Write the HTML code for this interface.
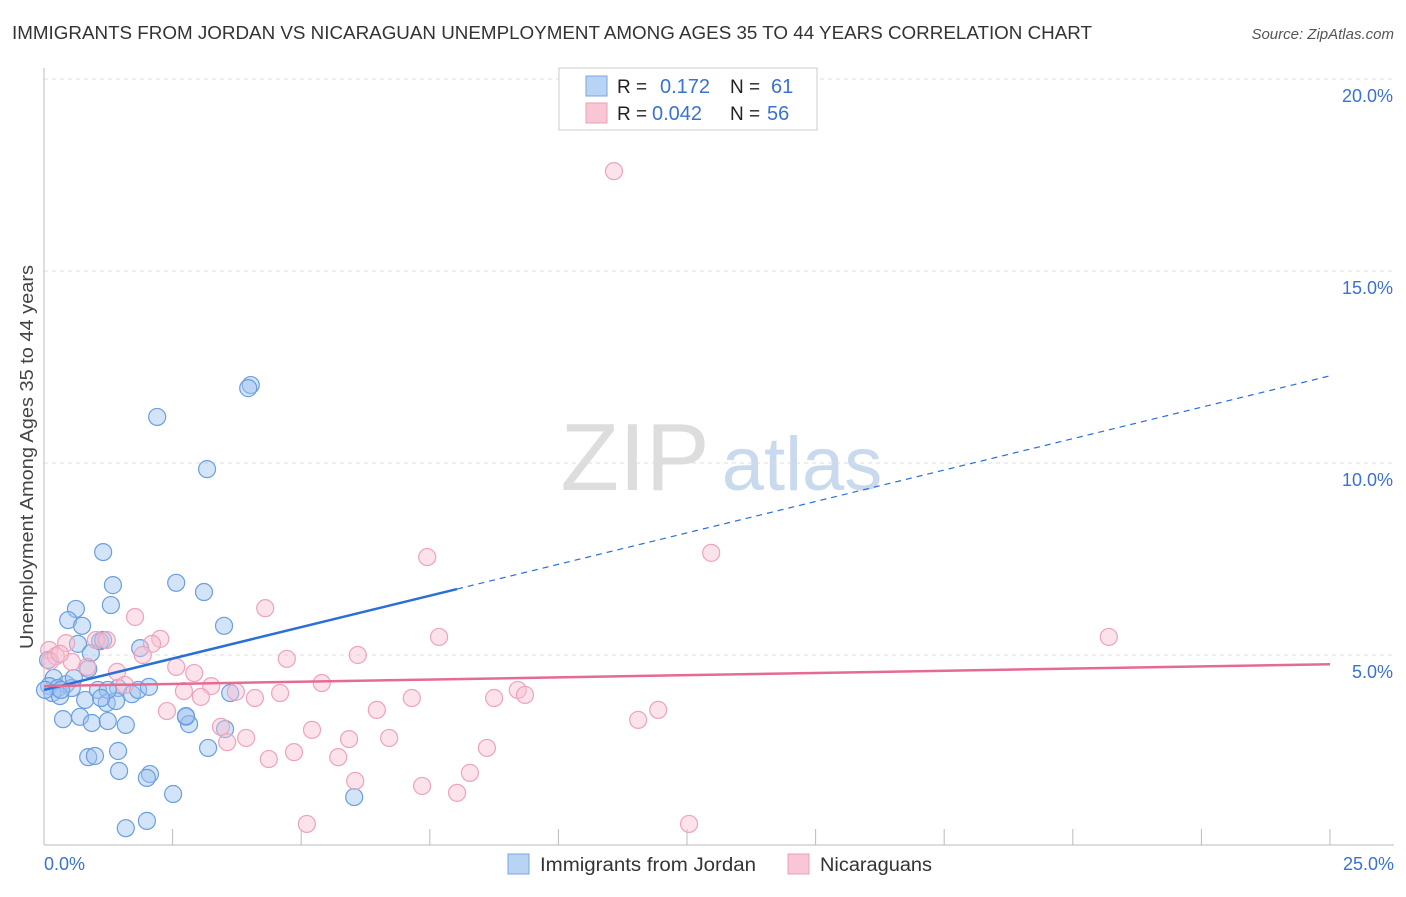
<!DOCTYPE html>
<html><head><meta charset="utf-8">
<style>
body{margin:0;background:#fff;font-family:"Liberation Sans",sans-serif;}
svg text{font-family:"Liberation Sans",sans-serif;}
</style></head>
<body>
<svg id="chart" width="1406" height="892" xmlns="http://www.w3.org/2000/svg">
<text x="12" y="39" font-size="18" fill="#333" textLength="1080" lengthAdjust="spacingAndGlyphs">IMMIGRANTS FROM JORDAN VS NICARAGUAN UNEMPLOYMENT AMONG AGES 35 TO 44 YEARS CORRELATION CHART</text>
<text x="1394" y="39" font-size="15" fill="#555" font-style="italic" text-anchor="end">Source: ZipAtlas.com</text>
<text transform="translate(33,457) rotate(-90)" font-size="18" fill="#444" text-anchor="middle" textLength="384" lengthAdjust="spacingAndGlyphs">Unemployment Among Ages 35 to 44 years</text>
<g>
<text x="635" y="490" font-size="96" fill="#ddd" font-family="Liberation Serif" text-anchor="middle">ZIP</text>
<text x="802" y="490" font-size="76" fill="#c9d9ee" text-anchor="middle">atlas</text>
</g>
<g id="grid"></g>
<g id="axes"></g>
<g id="pts"></g>
<g id="lines"></g>
<g>
<rect x="559" y="68" width="258" height="62" fill="#fff" stroke="#ccc"/>
<rect x="586" y="76" width="21" height="20" fill="#b8d3f4" stroke="#7aa6e0"/>
<rect x="586" y="103" width="21" height="20" fill="#f9c6d5" stroke="#ef9fb8"/>
<text x="617" y="93" font-size="19" fill="#222">R = </text><text x="660" y="93" font-size="20" fill="#3a72d0">0.172</text>
<text x="730" y="93" font-size="19" fill="#222">N = </text><text x="771" y="93" font-size="20" fill="#3a72d0">61</text>
<text x="617" y="120" font-size="19" fill="#222">R = </text><text x="652" y="120" font-size="20" fill="#3a72d0">0.042</text>
<text x="730" y="120" font-size="19" fill="#222">N = </text><text x="767" y="120" font-size="20" fill="#3a72d0">56</text>
</g>
<g>
<rect x="508" y="854" width="21" height="20" fill="#b8d3f4" stroke="#7aa6e0"/>
<text x="540" y="871" font-size="19" fill="#333" textLength="216" lengthAdjust="spacingAndGlyphs">Immigrants from Jordan</text>
<rect x="788" y="854" width="21" height="20" fill="#f9c6d5" stroke="#ef9fb8"/>
<text x="820" y="871" font-size="19" fill="#333" textLength="112" lengthAdjust="spacingAndGlyphs">Nicaraguans</text>
</g>
</svg>
<script>
const blueX=[1.15,1.34,1.30,0.62,0.47,0.74,0.66,0.91,1.09,0.08,0.19,0.43,0.86,0.10,0.27,0.54,0.16,0.31,0.80,1.05,1.22,1.44,1.40,1.71,1.83,2.04,0.37,0.70,0.93,1.24,1.59,2.57,3.11,3.50,1.87,3.62,2.76,2.82,3.52,3.19,0.86,0.99,1.44,1.46,2.06,2.00,2.51,6.03,1.59,2.00,2.20,3.17,4.02,3.97,1.24,1.11,0.02,1.15,0.58,2.76,0.33];
const blueY=[7.68,6.82,6.30,6.20,5.91,5.76,5.29,5.05,5.36,4.87,4.40,4.24,4.64,4.19,4.14,4.14,4.01,3.93,3.83,4.09,3.75,4.14,3.80,3.98,4.09,4.17,3.33,3.39,3.23,3.28,3.18,6.88,6.64,5.76,5.18,4.01,3.39,3.20,3.07,2.58,2.34,2.37,2.50,1.98,1.90,1.80,1.38,1.30,0.49,0.68,11.20,9.84,12.03,11.95,4.09,3.88,4.09,5.39,4.40,3.41,4.09];
const pinkX=[11.08,7.45,12.97,20.70,7.68,4.30,1.77,1.01,1.22,0.43,0.10,0.23,0.54,0.84,1.42,2.26,2.10,1.92,2.57,2.92,4.72,6.10,5.40,3.73,2.72,3.25,3.05,4.10,4.59,6.47,7.15,8.75,9.21,9.35,11.94,11.55,2.39,3.44,3.56,3.93,5.21,5.93,6.71,4.86,5.72,4.37,8.61,8.28,6.05,7.35,8.03,5.11,12.54,0.12,0.31,1.57];
const pinkY=[17.60,7.55,7.66,5.47,5.47,6.22,5.99,5.39,5.39,5.31,5.13,4.97,4.82,4.69,4.56,5.42,5.29,5.00,4.69,4.53,4.90,5.00,4.27,4.04,4.06,4.19,3.91,3.88,4.01,3.57,3.88,3.88,4.09,3.96,3.57,3.31,3.54,3.13,2.73,2.84,3.05,2.81,2.84,2.47,2.34,2.29,2.58,1.93,1.72,1.59,1.41,0.60,0.60,4.84,5.03,4.22];
const xTicks=[0,2.5,5,7.5,10,12.5,15,17.5,20,22.5,25];
const yTicks=[5,10,15,20];
const yTickLabels=["5.0%","10.0%","15.0%","20.0%"];
const blueTrend=[4.09,12.27]; const blueSolidEnd=8.03;
const pinkTrend=[4.19,4.76];
const NS="http://www.w3.org/2000/svg";
const sx=v=>44+v*51.44, sy=v=>847-v*38.4;
function mk(tag,attrs,parent){const e=document.createElementNS(NS,tag);for(const k in attrs)e.setAttribute(k,attrs[k]);parent.appendChild(e);return e;}
const grid=document.getElementById('grid'),axes=document.getElementById('axes'),pts=document.getElementById('pts'),lines=document.getElementById('lines');
yTicks.forEach((t,i)=>{
 const l=mk('line',{x1:44,x2:1394,y1:sy(t),y2:sy(t),stroke:'#ddd','stroke-dasharray':'4,4'},grid);
 
 
 const tx=mk('text',{x:1393,y:sy(t)+23,'font-size':18,fill:'#3a72d0','text-anchor':'end'},axes);tx.textContent=yTickLabels[i];
 
 
});
const ax=mk('line',{x1:44,x2:44,y1:68,y2:845,stroke:'#bbb'},axes);


const bx=mk('line',{x1:44,x2:1394,y1:845,y2:845,stroke:'#bbb'},axes);


xTicks.forEach(t=>{const l=mk('line',{x1:sx(t),x2:sx(t),y1:829,y2:845,stroke:'#bbb'},axes);
 
 });
let t0=mk('text',{x:44,y:870,'font-size':18,fill:'#3a72d0'},axes);t0.textContent="0.0%";


let t1=mk('text',{x:1394,y:870,'font-size':18,fill:'#3a72d0','text-anchor':'end'},axes);t1.textContent="25.0%";


blueX.forEach((x,i)=>{const c=mk('circle',{cx:sx(x),cy:sy(blueY[i]),r:8.5,fill:'rgba(160,196,240,0.45)',stroke:'#6a9ede','stroke-width':1.2},pts);
 
 });
pinkX.forEach((x,i)=>{const c=mk('circle',{cx:sx(x),cy:sy(pinkY[i]),r:8.5,fill:'rgba(248,190,208,0.45)',stroke:'#eda3bb','stroke-width':1.2},pts);
 
 });
const by=x=>blueTrend[0]+(blueTrend[1]-blueTrend[0])*x/25;
let l1=mk('line',{x1:sx(0),y1:sy(by(0)),x2:sx(blueSolidEnd),y2:sy(by(blueSolidEnd)),stroke:'#2a6fd6','stroke-width':2.5},lines);


let l2=mk('line',{x1:sx(blueSolidEnd),y1:sy(by(blueSolidEnd)),x2:sx(25),y2:sy(by(25)),stroke:'#2a6fd6','stroke-width':1.2,'stroke-dasharray':'6,5'},lines);


let l3=mk('line',{x1:sx(0),y1:sy(pinkTrend[0]),x2:sx(25),y2:sy(pinkTrend[1]),stroke:'#e66b93','stroke-width':2.5},lines);


</script>
</body></html>
